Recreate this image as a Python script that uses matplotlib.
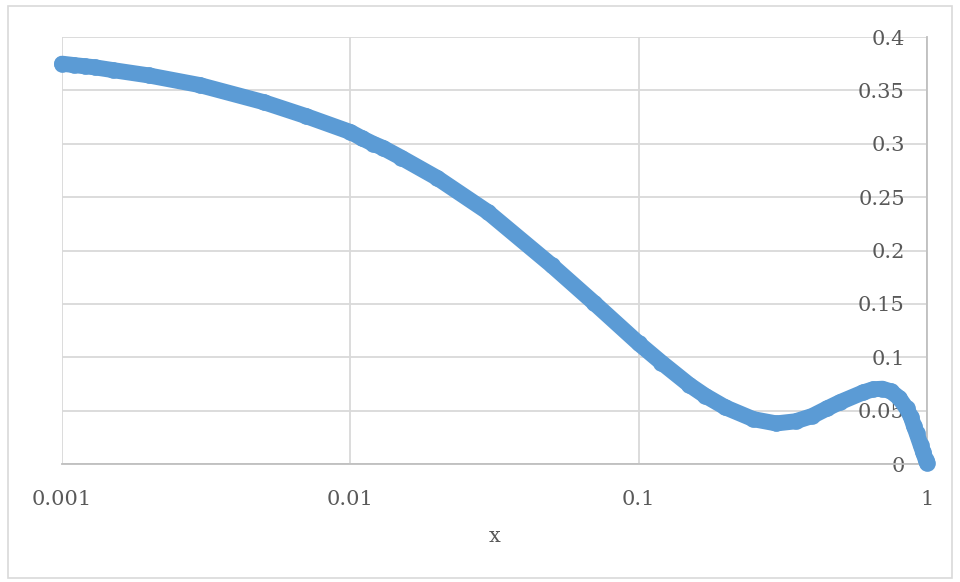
import matplotlib
matplotlib.use("Agg")
import matplotlib.pyplot as plt
from matplotlib.patches import Rectangle

# values
x_vals = [0.001, 0.0011, 0.0012, 0.0013, 0.0015, 0.002, 0.003, 0.005, 0.007,
          0.01, 0.011, 0.012, 0.013, 0.015, 0.02, 0.03, 0.05, 0.07,
          0.1, 0.12, 0.15, 0.17, 0.2, 0.25, 0.3, 0.35, 0.4, 0.45, 0.5, 0.6,
          0.65, 0.7, 0.75, 0.8, 0.85, 0.88, 0.9, 0.92, 0.95, 0.97, 0.99, 1.0]
y_vals = [0.375, 0.3737, 0.3726, 0.3716, 0.369, 0.364, 0.355, 0.339, 0.326,
          0.311, 0.305, 0.300, 0.296, 0.287, 0.268, 0.236, 0.186, 0.151,
          0.113, 0.095, 0.074, 0.064, 0.053, 0.042, 0.038, 0.040, 0.045, 0.052, 0.058, 0.067,
          0.070, 0.0705, 0.068, 0.062, 0.052, 0.044, 0.036, 0.029, 0.018, 0.011, 0.004, 0.001]

x_ticks = [0.001, 0.01, 0.1, 1]
x_labels = ["0.001", "0.01", "0.1", "1"]
y_ticks = [0, 0.05, 0.1, 0.15, 0.2, 0.25, 0.3, 0.35, 0.4]
y_labels = ["0", "0.05", "0.1", "0.15", "0.2", "0.25", "0.3", "0.35", "0.4"]

plt.rcParams['font.family'] = ['DejaVu Serif']
txt = '#595959'
blue = '#5B9BD5'

fig = plt.figure(figsize=(9.6, 5.82), dpi=100)
ax = fig.add_axes([62/960, 1 - 464/582, (927-62)/960, (464-37)/582])

ax.plot(x_vals, y_vals, color=blue, lw=11.5, solid_capstyle='round',
        solid_joinstyle='round', zorder=3, clip_on=False)
ax.plot(x_vals, y_vals, 'o', color=blue, ms=12, mec=blue, mew=0,
        zorder=4, clip_on=False)

ax.set_xscale('log')
ax.set_xlim(0.001, 1)
ax.set_ylim(0, 0.4)
ax.set_xticks(x_ticks)
ax.set_xticklabels(x_labels)
ax.minorticks_off()
ax.set_yticks(y_ticks)
ax.set_yticklabels(y_labels)

ax.grid(True, color='#D9D9D9', lw=1.3)
ax.set_axisbelow(True)
for s in ['left', 'top']:
    ax.spines[s].set_visible(False)
for s in ['bottom', 'right']:
    ax.spines[s].set_color('#BFBFBF')
    ax.spines[s].set_linewidth(1.3)

ax.yaxis.tick_right()
ax.tick_params(axis='y', length=0, pad=-16, labelsize=15, labelcolor=txt)
for lab in ax.get_yticklabels():
    lab.set_horizontalalignment('right')
ax.tick_params(axis='x', length=0, pad=19, labelsize=15, labelcolor=txt)

ax.set_xlabel('x', fontsize=15, color=txt, labelpad=13)

fig.patches.append(Rectangle((8/960, 4/582), 944/960, 572/582, transform=fig.transFigure,
                             fill=False, edgecolor='#D9D9D9', lw=1.2))

fig.savefig('out.png', dpi=100)
